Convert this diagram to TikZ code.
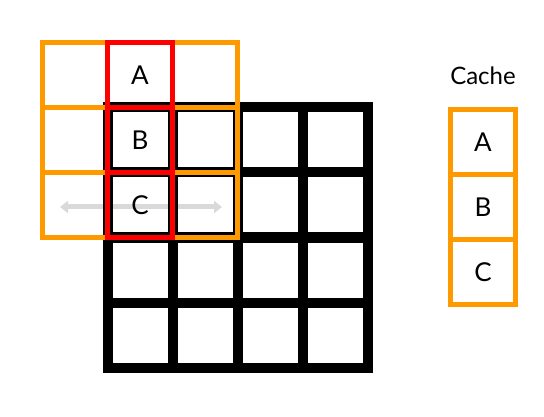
\documentclass[tikz,border=0pt]{standalone}
\usepackage{fontspec}
\setmainfont{Lato}
\usetikzlibrary{arrows.meta}
\definecolor{cacheorange}{RGB}{255,153,0}
\definecolor{arrowgray}{RGB}{217,217,217}

\begin{document}
\begin{tikzpicture}[x=1pt,y=-1pt,
  every node/.style={font=\fontsize{26}{26}\selectfont},
  cell/.style={draw,minimum size=65pt,inner sep=0pt,outer sep=0pt},
  blackcell/.style={cell,line width=10pt,draw=black},
  orangecell/.style={cell,line width=5.5pt,draw=cacheorange},
  redcell/.style={cell,line width=5.5pt,draw=red},
  slide/.style={arrowgray,line width=5pt,{Triangle[length=8pt,width=12pt]}-{Triangle[length=8pt,width=12pt]}}]
   \useasboundingbox (0,0) rectangle (544,417);
   \coordinate (sl) at (60,207);
   \coordinate (sr) at (222,207);
   \draw[slide] (sl) -- (sr);
   \foreach \i in {1,...,4}
    \foreach \j in {1,...,4}
     \node[blackcell] (b\i\j) at (75+65*\i,75+65*\j) {};
   \foreach \i in {0,...,2}
    \foreach \j in {0,...,2}
     \node[orangecell] (o\i\j) at (75+65*\i,75+65*\j) {};
   \node[redcell] (r1) at (140,75) {A};
   \node[redcell] (r2) at (140,140) {B};
   \node[redcell] (r3) at (140,205) {C};
   \node[font=\fontsize{24}{24}\selectfont] (cache) at (483,76) {Cache};
   \foreach \n/\y/\t in {c1/142/A,c2/207/B,c3/272/C}
    \node[orangecell] (\n) at (483,\y) {\t};
  \end{tikzpicture}
\end{document}
